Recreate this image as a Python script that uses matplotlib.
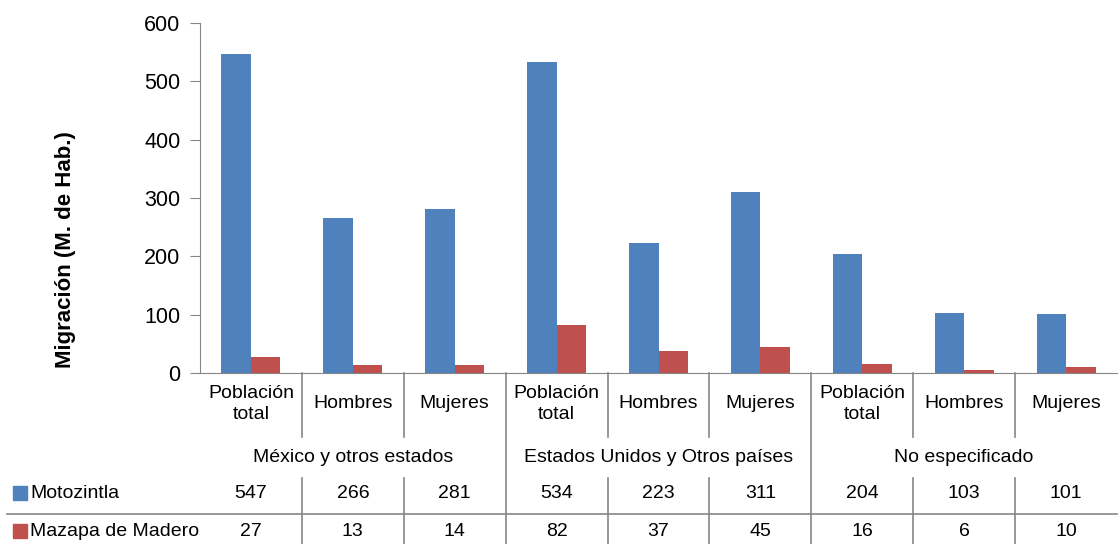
import matplotlib
matplotlib.use("Agg")
import matplotlib.pyplot as plt
import matplotlib.transforms as mtransforms
import numpy as np

categories = ["Población\ntotal", "Hombres", "Mujeres",
              "Población\ntotal", "Hombres", "Mujeres",
              "Población\ntotal", "Hombres", "Mujeres"]
groups = ["México y otros estados", "Estados Unidos y Otros países", "No especificado"]
series_names = ["Motozintla", "Mazapa de Madero"]
motozintla = [547, 266, 281, 534, 223, 311, 204, 103, 101]
mazapa = [27, 13, 14, 82, 37, 45, 16, 6, 10]
yticks = [0, 100, 200, 300, 400, 500, 600]
ylabel = "Migración (M. de Hab.)"

colors = ["#4F81BD", "#C0504D"]
grid_c = "#868686"

plt.rcParams["font.family"] = ["Liberation Sans", "DejaVu Sans"]

W, H = 1120, 544
fig = plt.figure(figsize=(W / 100, H / 100), dpi=100)
ax_l, ax_r, ax_t, ax_b = 200, 1117, 23, 373
ax = fig.add_axes([ax_l / W, 1 - ax_b / H, (ax_r - ax_l) / W, (ax_b - ax_t) / H])

n = len(categories)
x = np.arange(n)
bw = 0.29
ax.bar(x - bw / 2, motozintla, bw, color=colors[0], label=series_names[0])
ax.bar(x + bw / 2, mazapa, bw, color=colors[1], label=series_names[1])

ax.set_xlim(-0.5, n - 0.5)
ax.set_ylim(0, 600)
ax.set_yticks(yticks)
ax.set_yticklabels([str(v) for v in yticks], fontsize=15.5)
ax.set_xticks([])
for s in ["top", "right"]:
    ax.spines[s].set_visible(False)
ax.spines["left"].set_color(grid_c)
ax.spines["bottom"].set_color(grid_c)
ax.tick_params(axis="y", direction="out", length=7, color=grid_c, pad=7)
fig.text(65 / W, 1 - 250 / H, ylabel, rotation=90, ha="center", va="center",
         fontsize=16, fontweight="bold")

# table below the axes
tr = mtransforms.blended_transform_factory(ax.transData, fig.transFigure)
def fy(py):
    return 1 - py / H

fs = 14
for i, c in enumerate(categories):
    ax.text(i, fy(404), c, transform=tr, ha="center", va="center", fontsize=fs,
            linespacing=1.3, clip_on=False)
for g, name in enumerate(groups):
    ax.text(3 * g + 1, fy(458), name, transform=tr, ha="center", va="center", fontsize=fs, clip_on=False)
for i in range(n):
    ax.text(i, fy(494), str(motozintla[i]), transform=tr, ha="center", va="center", fontsize=fs, clip_on=False)
    ax.text(i, fy(531), str(mazapa[i]), transform=tr, ha="center", va="center", fontsize=fs, clip_on=False)

# separators
for i in range(n - 1):
    xb = i + 0.5
    if (i + 1) % 3 == 0:
        ax.plot([xb, xb], [fy(373), fy(544)], transform=tr, color=grid_c, lw=1.2, clip_on=False)
    else:
        ax.plot([xb, xb], [fy(373), fy(437)], transform=tr, color=grid_c, lw=1.2, clip_on=False)
        ax.plot([xb, xb], [fy(478), fy(544)], transform=tr, color=grid_c, lw=1.2, clip_on=False)
fig.add_artist(plt.Line2D([7 / W, ax_r / W], [fy(514), fy(514)], color=grid_c, lw=1.2))

# legend keys in the table rows
for k, (name, py) in enumerate(zip(series_names, [493, 531])):
    fig.patches.append(plt.Rectangle((13 / W, fy(py + 7)), 14 / W, 14 / H, color=colors[k],
                                     transform=fig.transFigure, figure=fig))
    fig.text(30 / W, fy(py), name, ha="left", va="center", fontsize=fs)

fig.savefig("out.png", dpi=100)
